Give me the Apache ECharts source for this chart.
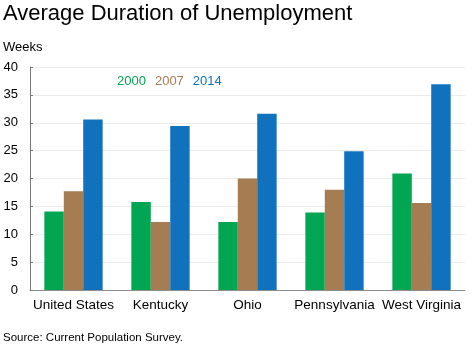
<!DOCTYPE html>
<html>
<head>
<meta charset="utf-8">
<script src="https://cdn.jsdelivr.net/npm/echarts@6/dist/echarts.min.js"></script>
<style>html,body{margin:0;padding:0;background:#fff}#c{width:475px;height:346px}</style>
</head>
<body>
<div id="c"></div>
<script>
const categories = ['United States', 'Kentucky', 'Ohio', 'Pennsylvania', 'West Virginia'];
const seriesNames = ['2000', '2007', '2014'];
const values2000 = [14.1, 15.8, 12.2, 13.9, 20.9];
const values2007 = [17.7, 12.2, 20.0, 18.0, 15.6];
const values2014 = [30.6, 29.4, 31.6, 24.9, 36.9];
const colors = ['#00a651', '#a67c52', '#1072bd'];
const yTicks = [0, 5, 10, 15, 20, 25, 30, 35, 40];

const font = 'Liberation Sans, Arial, sans-serif';
const allValues = [values2000, values2007, values2014];
const chart = echarts.init(document.getElementById('c'), null, {renderer: 'canvas'});
chart.setOption({
  animation: false,
  backgroundColor: '#ffffff',
  textStyle: {fontFamily: font},
  title: [
    {text: 'Average Duration of Unemployment', left: -2, top: -2,
     textStyle: {fontFamily: font, fontSize: 22, fontWeight: 'normal', color: '#000'}},
    {text: 'Source: Current Population Survey.', left: -2, bottom: -3,
     textStyle: {fontFamily: font, fontSize: 11.5, fontWeight: 'normal', color: '#000'}}
  ],
  graphic: [{type: 'text', left: 3, top: 41, style: {text: 'Weeks', font: '13px ' + font, fill: '#000'}}],
  legend: {
    left: 107, top: 70, itemWidth: 0, itemHeight: 0, itemGap: 4, icon: 'rect',
    data: seriesNames.map((n, i) => ({name: n, textStyle: {color: colors[i], fontSize: 13, fontFamily: font}})),
    selectedMode: false
  },
  grid: {left: 30, right: 10, top: 67, bottom: 56, containLabel: false},
  xAxis: {
    type: 'category', data: categories,
    axisLine: {lineStyle: {color: '#8c8c8c', width: 1}},
    axisTick: {inside: true, length: 4, lineStyle: {color: '#555'}},
    axisLabel: {color: '#000', fontSize: 13.5, margin: 8, fontFamily: font, interval: 0}
  },
  yAxis: {
    type: 'value', min: yTicks[0], max: yTicks[yTicks.length - 1], interval: 5,
    axisLine: {show: true, lineStyle: {color: '#777', width: 1}},
    axisTick: {show: true, inside: true, length: 3, lineStyle: {color: '#777'}},
    axisLabel: {color: '#000', fontSize: 13, margin: 12, fontFamily: font},
    splitLine: {lineStyle: {color: '#ebebeb', width: 1}}
  },
  series: seriesNames.map((n, i) => ({
    name: n, type: 'bar', data: allValues[i], barGap: '0%', barCategoryGap: '33%',
    itemStyle: {color: colors[i]}
  }))
});
</script>
</body>
</html>
